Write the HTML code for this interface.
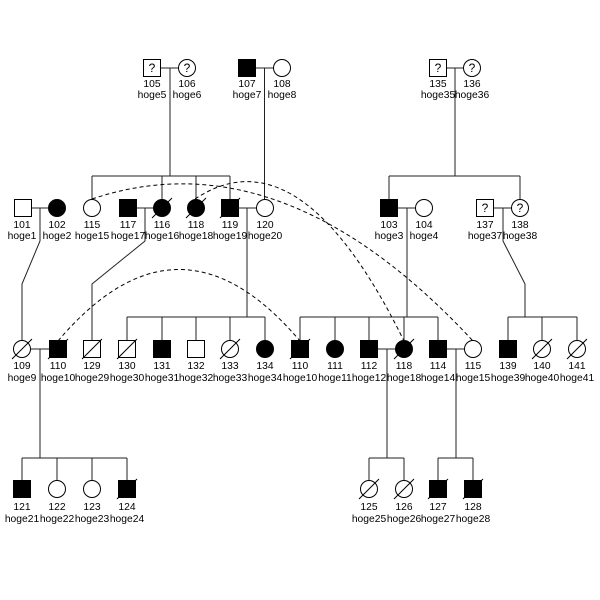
<!DOCTYPE html>
<html><head><meta charset="utf-8"><style>html,body{margin:0;padding:0;background:#fff}svg{display:block}</style></head>
<body>
<svg width="600" height="600" viewBox="0 0 600 600" xmlns="http://www.w3.org/2000/svg" font-family="Liberation Sans, Arial, sans-serif" font-size="10.3">
<rect width="600" height="600" fill="#fff"/>
<g stroke="#222" stroke-width="1" fill="none">
<path d="M160,68H179 M255,68H274 M446,68H464 M31,208H49 M136,208H154 M238,208H257 M397,208H416 M493,208H512 M30,349H50 M377,349H396 M446,349H465"/>
<path d="M170,68V176 M92,176H230 M92,176V200 M162,176V200 M196,176V200 M230,176V200"/>
<path d="M264.5,68V200"/>
<path d="M455,68V176 M389,176H520 M389,176V200 M520,176V200"/>
<path d="M40,208V241 L22,284 V341"/>
<path d="M145,208V241 L92,284 V341"/>
<path d="M247,208V317 M127,317H265 M127,317V341 M162,317V341 M196,317V341 M230,317V341 M265,317V341"/>
<path d="M407,208V317 M300,317H438 M300,317V341 M335,317V341 M369,317V341 M404,317V341 M438,317V341"/>
<path d="M503,208V241 L525,284 V317 M508,317H577 M508,317V341 M542,317V341 M577,317V341"/>
<path d="M40,349V458 M22,458H127 M22,458V481 M57,458V481 M92,458V481 M127,458V481"/>
<path d="M387,349V458 M369,458H404 M369,458V481 M404,458V481"/>
<path d="M456,349V458 M438,458H473 M438,458V481 M473,458V481"/>
</g>
<g stroke="#000" stroke-width="1" fill="none" stroke-dasharray="4,3">
<path d="M92,199 Q282,135 473,341"/>
<path d="M195,199 Q300,129 404,341"/>
<path d="M58,341 Q179,198 300,341"/>
</g>
<g stroke="#000" stroke-width="1">
<rect x="143.5" y="59.5" width="17" height="17" fill="#fff"/>
<circle cx="187" cy="68" r="8.5" fill="#fff"/>
<rect x="238.5" y="59.5" width="17" height="17" fill="#000"/>
<circle cx="282" cy="68" r="8.5" fill="#fff"/>
<rect x="429.5" y="59.5" width="17" height="17" fill="#fff"/>
<circle cx="472" cy="68" r="8.5" fill="#fff"/>
<rect x="14.5" y="199.5" width="17" height="17" fill="#fff"/>
<circle cx="57" cy="208" r="8.5" fill="#000"/>
<circle cx="92" cy="208" r="8.5" fill="#fff"/>
<rect x="119.5" y="199.5" width="17" height="17" fill="#000"/>
<circle cx="162" cy="208" r="8.5" fill="#000"/>
<circle cx="196" cy="208" r="8.5" fill="#000"/>
<rect x="221.5" y="199.5" width="17" height="17" fill="#000"/>
<circle cx="265" cy="208" r="8.5" fill="#fff"/>
<rect x="380.5" y="199.5" width="17" height="17" fill="#000"/>
<circle cx="424" cy="208" r="8.5" fill="#fff"/>
<rect x="476.5" y="199.5" width="17" height="17" fill="#fff"/>
<circle cx="520" cy="208" r="8.5" fill="#fff"/>
<circle cx="22" cy="349" r="8.5" fill="#fff"/>
<rect x="49.5" y="340.5" width="17" height="17" fill="#000"/>
<rect x="83.5" y="340.5" width="17" height="17" fill="#fff"/>
<rect x="118.5" y="340.5" width="17" height="17" fill="#fff"/>
<rect x="153.5" y="340.5" width="17" height="17" fill="#000"/>
<rect x="187.5" y="340.5" width="17" height="17" fill="#fff"/>
<circle cx="230" cy="349" r="8.5" fill="#fff"/>
<circle cx="265" cy="349" r="8.5" fill="#000"/>
<rect x="291.5" y="340.5" width="17" height="17" fill="#000"/>
<circle cx="335" cy="349" r="8.5" fill="#000"/>
<rect x="360.5" y="340.5" width="17" height="17" fill="#000"/>
<circle cx="404" cy="349" r="8.5" fill="#000"/>
<rect x="429.5" y="340.5" width="17" height="17" fill="#000"/>
<circle cx="473" cy="349" r="8.5" fill="#fff"/>
<rect x="499.5" y="340.5" width="17" height="17" fill="#000"/>
<circle cx="542" cy="349" r="8.5" fill="#fff"/>
<circle cx="577" cy="349" r="8.5" fill="#fff"/>
<rect x="13.5" y="480.5" width="17" height="17" fill="#000"/>
<circle cx="57" cy="489" r="8.5" fill="#fff"/>
<circle cx="92" cy="489" r="8.5" fill="#fff"/>
<rect x="118.5" y="480.5" width="17" height="17" fill="#000"/>
<circle cx="369" cy="489" r="8.5" fill="#fff"/>
<circle cx="404" cy="489" r="8.5" fill="#fff"/>
<rect x="429.5" y="480.5" width="17" height="17" fill="#000"/>
<rect x="464.5" y="480.5" width="17" height="17" fill="#000"/>
</g>
<g stroke="#000" stroke-width="1">
<path d="M152,218L172,198 M186,218L206,198 M220,218L240,198"/>
<path d="M12,359L32,339 M48,359L68,339 M82,359L102,339 M117,359L137,339 M220,359L240,339 M290,359L310,339 M394,359L414,339 M532,359L552,339 M567,359L587,339"/>
<path d="M117,499L137,479 M359,499L379,479 M394,499L414,479 M428,499L448,479 M463,499L483,479"/>
</g>
<g text-anchor="middle" fill="#000" font-size="12">
<text x="152" y="72">?</text><text x="187" y="72">?</text>
<text x="438" y="72">?</text><text x="472" y="72">?</text>
<text x="485" y="212">?</text><text x="520" y="212">?</text>
</g>
<g text-anchor="middle" fill="#000">
<text x="152" y="87">105</text><text x="152" y="98">hoge5</text>
<text x="187" y="87">106</text><text x="187" y="98">hoge6</text>
<text x="247" y="87">107</text><text x="247" y="98">hoge7</text>
<text x="282" y="87">108</text><text x="282" y="98">hoge8</text>
<text x="438" y="87">135</text><text x="438" y="98">hoge35</text>
<text x="472" y="87">136</text><text x="472" y="98">hoge36</text>

<text x="22" y="228">101</text><text x="22" y="239">hoge1</text>
<text x="57" y="228">102</text><text x="57" y="239">hoge2</text>
<text x="92" y="228">115</text><text x="92" y="239">hoge15</text>
<text x="128" y="228">117</text><text x="128" y="239">hoge17</text>
<text x="162" y="228">116</text><text x="162" y="239">hoge16</text>
<text x="196" y="228">118</text><text x="196" y="239">hoge18</text>
<text x="230" y="228">119</text><text x="230" y="239">hoge19</text>
<text x="265" y="228">120</text><text x="265" y="239">hoge20</text>
<text x="389" y="228">103</text><text x="389" y="239">hoge3</text>
<text x="424" y="228">104</text><text x="424" y="239">hoge4</text>
<text x="485" y="228">137</text><text x="485" y="239">hoge37</text>
<text x="520" y="228">138</text><text x="520" y="239">hoge38</text>

<text x="22" y="369">109</text><text x="22" y="381">hoge9</text>
<text x="58" y="369">110</text><text x="58" y="381">hoge10</text>
<text x="92" y="369">129</text><text x="92" y="381">hoge29</text>
<text x="127" y="369">130</text><text x="127" y="381">hoge30</text>
<text x="162" y="369">131</text><text x="162" y="381">hoge31</text>
<text x="196" y="369">132</text><text x="196" y="381">hoge32</text>
<text x="230" y="369">133</text><text x="230" y="381">hoge33</text>
<text x="265" y="369">134</text><text x="265" y="381">hoge34</text>
<text x="300" y="369">110</text><text x="300" y="381">hoge10</text>
<text x="335" y="369">111</text><text x="335" y="381">hoge11</text>
<text x="369" y="369">112</text><text x="369" y="381">hoge12</text>
<text x="404" y="369">118</text><text x="404" y="381">hoge18</text>
<text x="438" y="369">114</text><text x="438" y="381">hoge14</text>
<text x="473" y="369">115</text><text x="473" y="381">hoge15</text>
<text x="508" y="369">139</text><text x="508" y="381">hoge39</text>
<text x="542" y="369">140</text><text x="542" y="381">hoge40</text>
<text x="577" y="369">141</text><text x="577" y="381">hoge41</text>

<text x="22" y="510">121</text><text x="22" y="522">hoge21</text>
<text x="57" y="510">122</text><text x="57" y="522">hoge22</text>
<text x="92" y="510">123</text><text x="92" y="522">hoge23</text>
<text x="127" y="510">124</text><text x="127" y="522">hoge24</text>
<text x="369" y="510">125</text><text x="369" y="522">hoge25</text>
<text x="404" y="510">126</text><text x="404" y="522">hoge26</text>
<text x="438" y="510">127</text><text x="438" y="522">hoge27</text>
<text x="473" y="510">128</text><text x="473" y="522">hoge28</text>
</g>
</svg>
</body></html>
